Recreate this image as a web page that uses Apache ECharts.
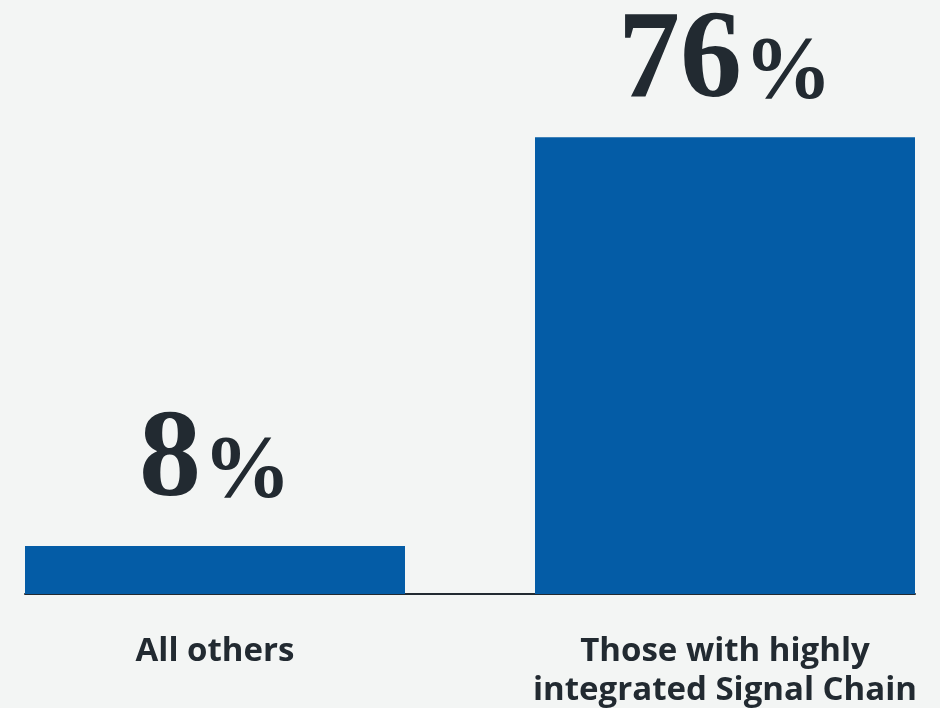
<!DOCTYPE html>
<html>
<head>
<meta charset="utf-8">
<script src="https://cdn.jsdelivr.net/npm/echarts@6/dist/echarts.min.js"></script>
<style>
  html, body { margin: 0; padding: 0; background: #f3f5f4; }
  #chart { width: 940px; height: 708px; }
</style>
</head>
<body>
<div id="chart"></div>
<script>
// Share of respondents, by group
const categories = ['All others', 'Those with highly\nintegrated Signal Chain'];
const values = [8, 76];

const BAR_COLOR = '#045ca6';
const TEXT_COLOR = '#222a31';

const chart = echarts.init(document.getElementById('chart'));
chart.setOption({
  backgroundColor: '#f3f5f4',
  animation: false,
  grid: [
    // bars: wide grid so each category centre sits under its bar
    { left: -40, right: -40, top: 53, bottom: 114, containLabel: false, outerBoundsMode: 'none' },
    // baseline rule
    { left: 25, right: 25, top: 53, bottom: 114, containLabel: false, outerBoundsMode: 'none' }
  ],
  xAxis: [
    {
      type: 'category',
      gridIndex: 0,
      data: categories,
      axisLine: { show: false },
      axisTick: { show: false },
      axisLabel: {
        interval: 0,
        margin: 38,
        fontFamily: 'Open Sans',
        fontWeight: 'bold',
        fontSize: 33,
        lineHeight: 39,
        color: TEXT_COLOR
      }
    },
    {
      type: 'value',
      gridIndex: 1,
      min: 0,
      max: 1,
      axisLine: { show: true, onZero: false, lineStyle: { color: TEXT_COLOR, width: 2 } },
      axisTick: { show: false },
      axisLabel: { show: false },
      splitLine: { show: false }
    }
  ],
  yAxis: [
    { type: 'value', gridIndex: 0, min: 0, max: 90, show: false },
    { type: 'value', gridIndex: 1, min: 0, max: 1, show: false }
  ],
  series: [{
    type: 'bar',
    xAxisIndex: 0,
    yAxisIndex: 0,
    data: values.map((v, i) => ({
      value: v,
      label: { distance: i === 0 ? 21 : 11 }
    })),
    barWidth: 380,
    itemStyle: { color: BAR_COLOR },
    label: {
      show: true,
      position: 'top',
      formatter: (p) => '{n|' + p.value + '}{p|%}',
      rich: {
        n: {
          fontFamily: 'Liberation Serif',
          fontWeight: 'bold',
          fontSize: 124,
          color: TEXT_COLOR,
          lineHeight: 110,
          verticalAlign: 'bottom'
        },
        p: {
          fontFamily: 'Liberation Serif',
          fontWeight: 'bold',
          fontSize: 88,
          color: TEXT_COLOR,
          lineHeight: 110,
          verticalAlign: 'bottom',
          padding: [0, 0, 8, 2]
        }
      }
    }
  }]
});
</script>
</body>
</html>
